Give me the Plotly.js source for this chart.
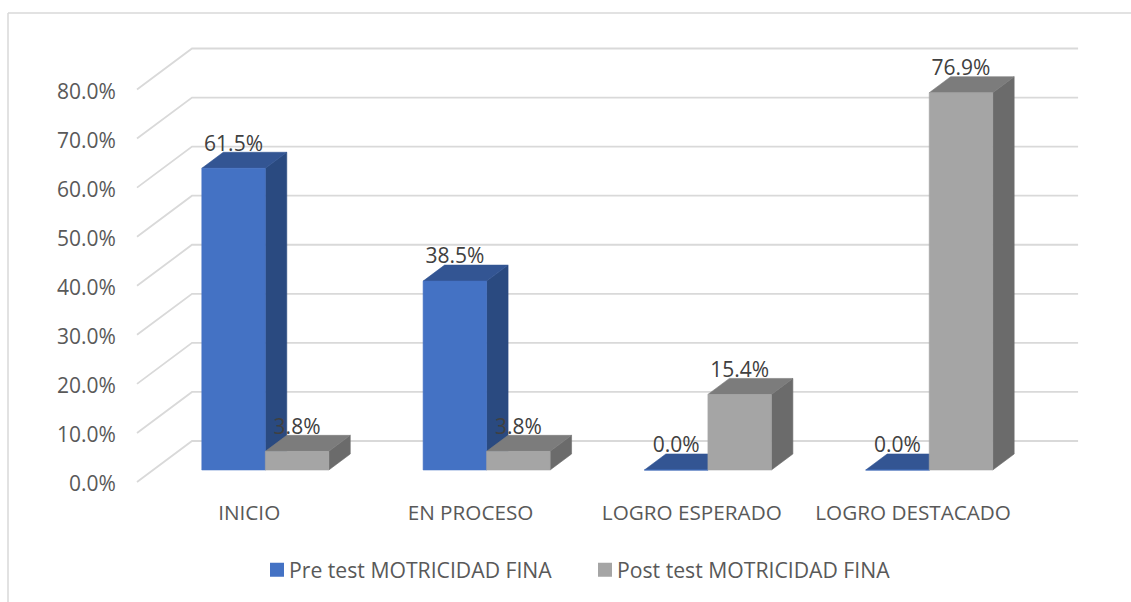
<!DOCTYPE html>
<html>
<head>
<meta charset="utf-8">
<script src="https://cdn.plot.ly/plotly-3.0.1.min.js"></script>
<style>html,body{margin:0;padding:0;background:#fff}</style>
</head>
<body>
<div id="chart" style="width:1131px;height:602px"></div>
<script>
const categories = ['INICIO', 'EN PROCESO', 'LOGRO ESPERADO', 'LOGRO DESTACADO'];
const preTest = [61.5, 38.5, 0.0, 0.0];
const postTest = [3.8, 3.8, 15.4, 76.9];
const seriesNames = ['Pre test MOTRICIDAD FINA', 'Post test MOTRICIDAD FINA'];
const axisTicks = [0, 10, 20, 30, 40, 50, 60, 70, 80];

// Plot-area frame in pixels, and the scale of the axes
const W = 1131, H = 602, L = 130, R = 1085, T = 40, B = 490;
const X0PX = 249.2, XPX = 221.3, Y0PX = 482, YPX = 4.906;
const xRange = [(L - X0PX) / XPX, (R - X0PX) / XPX];
const yRange = [(Y0PX - B) / YPX, (Y0PX - T) / YPX];

// Oblique projection: depth 0 is the front of the floor, depth 1 the back wall
const DX = 55 / XPX, DY = 41 / YPX;
const FRONT = 0.293, BACK = 0.683, BAR = 63.5 / XPX;
const px = (x, d) => x + d * DX;
const py = (v, d) => v + d * DY;

const traces = [];

// Gridlines: front edge of the floor to the back wall, then along the wall
const GRID_START = -0.507, GRID_END = 3.497;
const gx = [], gy = [];
axisTicks.forEach(v => {
  gx.push(GRID_START, px(GRID_START, 1), px(GRID_END, 1), null);
  gy.push(v, py(v, 1), py(v, 1), null);
});
traces.push({x: gx, y: gy, mode: 'lines', line: {color: '#d9d9d9', width: 1.8}, showlegend: false, hoverinfo: 'skip'});

function poly(xs, ys, color) {
  traces.push({x: xs, y: ys, mode: 'lines', fill: 'toself', fillcolor: color,
    line: {color: color, width: 0.6}, showlegend: false, hoverinfo: 'skip'});
}

function addSeries(values, slot, front, side, top) {
  const tx = [], ty = [], sx = [], sy = [], fx = [], fy = [];
  values.forEach((v, i) => {
    const a = i + slot * BAR, b = a + BAR;
    tx.push(px(a, FRONT), px(b, FRONT), px(b, BACK), px(a, BACK), px(a, FRONT), null);
    ty.push(py(v, FRONT), py(v, FRONT), py(v, BACK), py(v, BACK), py(v, FRONT), null);
    sx.push(px(b, FRONT), px(b, BACK), px(b, BACK), px(b, FRONT), px(b, FRONT), null);
    sy.push(py(0, FRONT), py(0, BACK), py(v, BACK), py(v, FRONT), py(0, FRONT), null);
    fx.push(px(a, FRONT), px(b, FRONT), px(b, FRONT), px(a, FRONT), px(a, FRONT), null);
    fy.push(py(0, FRONT), py(0, FRONT), py(v, FRONT), py(v, FRONT), py(0, FRONT), null);
  });
  poly(sx, sy, side);
  poly(tx, ty, top);
  poly(fx, fy, front);
}

addSeries(preTest, -1, '#4472c4', '#2a4a80', '#335593');
addSeries(postTest, 0, '#a5a5a5', '#6b6b6b', '#7c7c7c');

// Data labels, centred over each bar's front face
const LABEL_DROP = 3.5 / YPX;
function addLabels(values, slot) {
  traces.push({
    x: values.map((v, i) => px(i + (slot + 0.5) * BAR, FRONT)),
    y: values.map(v => py(v, BACK) - LABEL_DROP),
    text: values.map(v => v.toFixed(1) + '%'),
    mode: 'text', textposition: 'top center',
    textfont: {family: '"Open Sans", sans-serif', size: 21, color: '#404040'},
    showlegend: false, hoverinfo: 'skip', cliponaxis: false
  });
}
addLabels(preTest, -1);
addLabels(postTest, 0);

// Legend entries
[['#4472c4', seriesNames[0]], ['#a5a5a5', seriesNames[1]]].forEach(([c, n]) => {
  traces.push({x: [null], y: [null], mode: 'markers', name: n,
    marker: {symbol: 'square', size: 14, color: c}, hoverinfo: 'skip'});
});

const pfx = p => (p - L) / (R - L), pfy = p => (B - p) / (B - T);

const layout = {
  width: W, height: H, autosize: false,
  paper_bgcolor: '#ffffff', plot_bgcolor: 'rgba(0,0,0,0)',
  margin: {l: L, r: W - R, t: T, b: H - B, pad: 0, autoexpand: false},
  font: {family: '"Open Sans", sans-serif', color: '#595959', size: 21},
  xaxis: {
    range: xRange, tickmode: 'array', tickvals: categories.map((c, i) => i), ticktext: categories,
    showgrid: false, zeroline: false, showline: false,
    ticks: 'outside', ticklen: 4, tickcolor: 'rgba(0,0,0,0)', tickangle: 0,
    tickfont: {size: 20.7, color: '#595959'}
  },
  yaxis: {
    range: yRange, tickmode: 'array', tickvals: axisTicks, ticktext: axisTicks.map(v => v.toFixed(1) + '%'),
    showgrid: false, zeroline: false, showline: false,
    ticks: 'outside', ticklen: 9, tickcolor: 'rgba(0,0,0,0)', ticklabelshift: 2,
    tickfont: {size: 21, color: '#595959'}
  },
  showlegend: true,
  legend: {
    orientation: 'h', xanchor: 'left', yanchor: 'middle',
    x: pfx(249), y: pfy(570), itemwidth: 30, entrywidth: 283, entrywidthmode: 'pixels', bgcolor: 'rgba(0,0,0,0)',
    font: {size: 21.2, color: '#595959'}, traceorder: 'normal', itemclick: false, itemdoubleclick: false
  },
  shapes: [
    {type: 'line', xref: 'paper', yref: 'paper', x0: pfx(8), x1: pfx(1131), y0: pfy(13), y1: pfy(13), line: {color: '#d9d9d9', width: 1.5}},
    {type: 'line', xref: 'paper', yref: 'paper', x0: pfx(8), x1: pfx(8), y0: pfy(13), y1: pfy(602), line: {color: '#d9d9d9', width: 1.5}}
  ]
};

Plotly.newPlot('chart', traces, layout, {displayModeBar: false, responsive: false}).then(gd => {
  // Bring the legend swatches closer to their text, as in the reference
  gd.querySelectorAll('.legend .legendpoints').forEach(n => n.setAttribute('transform', 'translate(8,0)'));
});
</script>
</body>
</html>
